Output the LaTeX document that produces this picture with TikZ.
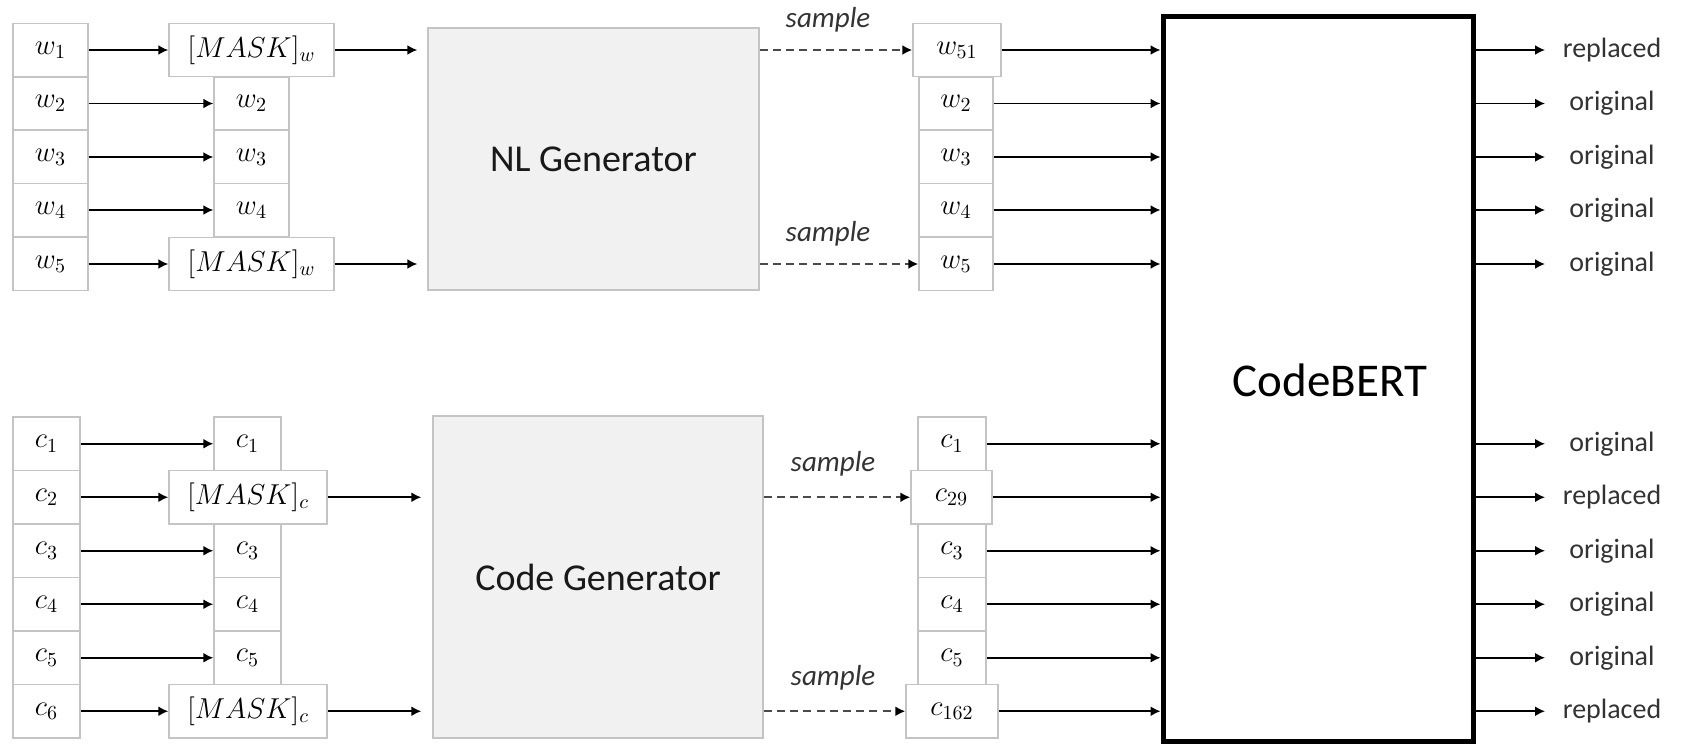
\documentclass[tikz,border=0pt]{standalone}
\usepackage{fontspec}
\setmainfont{Carlito}
\usetikzlibrary{arrows.meta}
\DeclareMathSizes{13.5}{13.5}{10}{8}
\definecolor{boxline}{HTML}{C4C4C4}
\definecolor{genfill}{HTML}{F1F1F1}
\definecolor{dashcol}{HTML}{4A4A4A}
\definecolor{labcol}{HTML}{333333}
\begin{document}
\begin{tikzpicture}[x=0.5pt,y=-0.5pt,
  tok/.style={draw=boxline, fill=white, line width=0.7pt, inner sep=0pt,
    minimum height=26.5pt, font=\fontsize{13.5}{16}\selectfont},
  ctok/.style={tok, minimum height=26.75pt},
  gen/.style={draw=boxline, fill=genfill, line width=0.7pt, inner sep=0pt,
    font=\fontsize{19}{22}\selectfont, text=black!90},
  arr/.style={line width=0.9pt, -{Latex[length=5pt,width=5pt]}},
  samplearr/.style={line width=1.1pt, draw=dashcol, dash pattern=on 4pt off 2.6pt,
    -{Latex[length=5pt,width=5pt,color=black]}},
  samplelab/.style={font=\fontsize{14.5}{17}\itshape, text=labcol, inner sep=0pt},
  outlab/.style={font=\fontsize{14}{17}\selectfont, text=labcol, inner sep=0pt}
]
\useasboundingbox (0,0) rectangle (1706,744);

% ---------- natural-language tokens ----------
\node[tok, minimum width=37.5pt] (w1) at (50.5,50) {$w_1$};
\node[tok, minimum width=37.5pt] (w2) at (50.5,103.5) {$w_2$};
\node[tok, minimum width=37.5pt] (w3) at (50.5,157) {$w_3$};
\node[tok, minimum width=37.5pt] (w4) at (50.5,210) {$w_4$};
\node[tok, minimum width=37.5pt] (w5) at (50.5,264) {$w_5$};

\node[tok, minimum width=37.5pt] (mw2) at (251.5,103.5) {$w_2$};
\node[tok, minimum width=37.5pt] (mw3) at (251.5,157) {$w_3$};
\node[tok, minimum width=37.5pt] (mw4) at (251.5,210) {$w_4$};
\node[tok, minimum width=82.5pt] (mw1) at (251.5,50) {$[MASK]_w$};
\node[tok, minimum width=82.5pt] (mw5) at (251.5,264) {$[MASK]_w$};

\node[gen, minimum width=165.5pt, minimum height=131pt] (nlg) at (593.5,159) {NL Generator};

\node[tok, minimum width=37pt] (sw2) at (956,103.5) {$w_2$};
\node[tok, minimum width=37pt] (sw3) at (956,157) {$w_3$};
\node[tok, minimum width=37pt] (sw4) at (956,210) {$w_4$};
\node[tok, minimum width=37pt] (sw5) at (956,264) {$w_5$};
\node[tok, minimum width=44pt] (sw1) at (957,50) {$w_{51}$};

% ---------- code tokens ----------
\node[ctok, minimum width=33.5pt] (c1) at (46.5,443.75) {$c_1$};
\node[ctok, minimum width=33.5pt] (c2) at (46.5,497.25) {$c_2$};
\node[ctok, minimum width=33.5pt] (c3) at (46.5,550.75) {$c_3$};
\node[ctok, minimum width=33.5pt] (c4) at (46.5,604.25) {$c_4$};
\node[ctok, minimum width=33.5pt] (c5) at (46.5,657.75) {$c_5$};
\node[ctok, minimum width=33.5pt] (c6) at (46.5,711.25) {$c_6$};

\node[ctok, minimum width=33.5pt] (mc1) at (247.5,443.75) {$c_1$};
\node[ctok, minimum width=33.5pt] (mc3) at (247.5,550.75) {$c_3$};
\node[ctok, minimum width=33.5pt] (mc4) at (247.5,604.25) {$c_4$};
\node[ctok, minimum width=33.5pt] (mc5) at (247.5,657.75) {$c_5$};
\node[ctok, minimum width=79pt] (mc2) at (248,497.25) {$[MASK]_c$};
\node[ctok, minimum width=79pt] (mc6) at (248,711.25) {$[MASK]_c$};

\node[gen, minimum width=165pt, minimum height=161pt] (cg) at (598,577) {Code Generator};

\node[ctok, minimum width=34pt] (sc1) at (952,443.75) {$c_1$};
\node[ctok, minimum width=34pt] (sc3) at (952,550.75) {$c_3$};
\node[ctok, minimum width=34pt] (sc4) at (952,604.25) {$c_4$};
\node[ctok, minimum width=34pt] (sc5) at (952,657.75) {$c_5$};
\node[ctok, minimum width=40.5pt] (sc2) at (951.5,497.25) {$c_{29}$};
\node[ctok, minimum width=46pt] (sc6) at (952,711.25) {$c_{162}$};

% ---------- discriminator ----------
\node[draw=black, line width=2.5pt, inner sep=0pt, minimum width=155pt,
  minimum height=362.5pt] (cb) at (1318,378.5) {};
\node[font=\fontsize{23.5}{28}\selectfont, inner sep=0pt] (cbtext) at (1330,380) {CodeBERT};

% ---------- masking arrows ----------
\foreach \i in {1,...,5} \draw[arr] (w\i.east) -- (mw\i.west);
\foreach \i in {1,...,6} \draw[arr] (c\i.east) -- (mc\i.west);

\draw[arr, shorten >=5pt] (mw1.east) -- (mw1.east -| nlg.west);
\draw[arr, shorten >=5pt] (mw5.east) -- (mw5.east -| nlg.west);
\draw[arr, shorten >=5.5pt] (mc2.east) -- (mc2.east -| cg.west);
\draw[arr, shorten >=5.5pt] (mc6.east) -- (mc6.east -| cg.west);

% ---------- sampling ----------
\draw[samplearr] (nlg.east |- sw1) -- (sw1.west);
\draw[samplearr] (nlg.east |- sw5) -- (sw5.west);
\draw[samplearr] (cg.east |- sc2) -- (sc2.west);
\draw[samplearr] (cg.east |- sc6) -- (sc6.west);
\node[samplelab] (s1) at (828,20) {sample};
\node[samplelab] (s2) at (828,234) {sample};
\node[samplelab] (s3) at (833,464) {sample};
\node[samplelab] (s4) at (833,678) {sample};

% ---------- into the discriminator ----------
\foreach \i in {1,...,5} \draw[arr] (sw\i.east) -- (sw\i -| cb.west);
\foreach \i in {1,...,6} \draw[arr] (sc\i.east) -- (sc\i -| cb.west);

% ---------- predictions ----------
\coordinate (oe) at (1545,0);
\foreach \i/\t in {1/replaced,2/original,3/original,4/original,5/original}{
  \draw[arr] (sw\i -| cb.east) -- (sw\i -| oe);
  \node[outlab] (ow\i) at (1612,0 |- sw\i) {\t};
}
\foreach \i/\t in {1/original,2/replaced,3/original,4/original,5/original,6/replaced}{
  \draw[arr] (sc\i -| cb.east) -- (sc\i -| oe);
  \node[outlab] (oc\i) at (1612,0 |- sc\i) {\t};
}
\end{tikzpicture}
\end{document}
